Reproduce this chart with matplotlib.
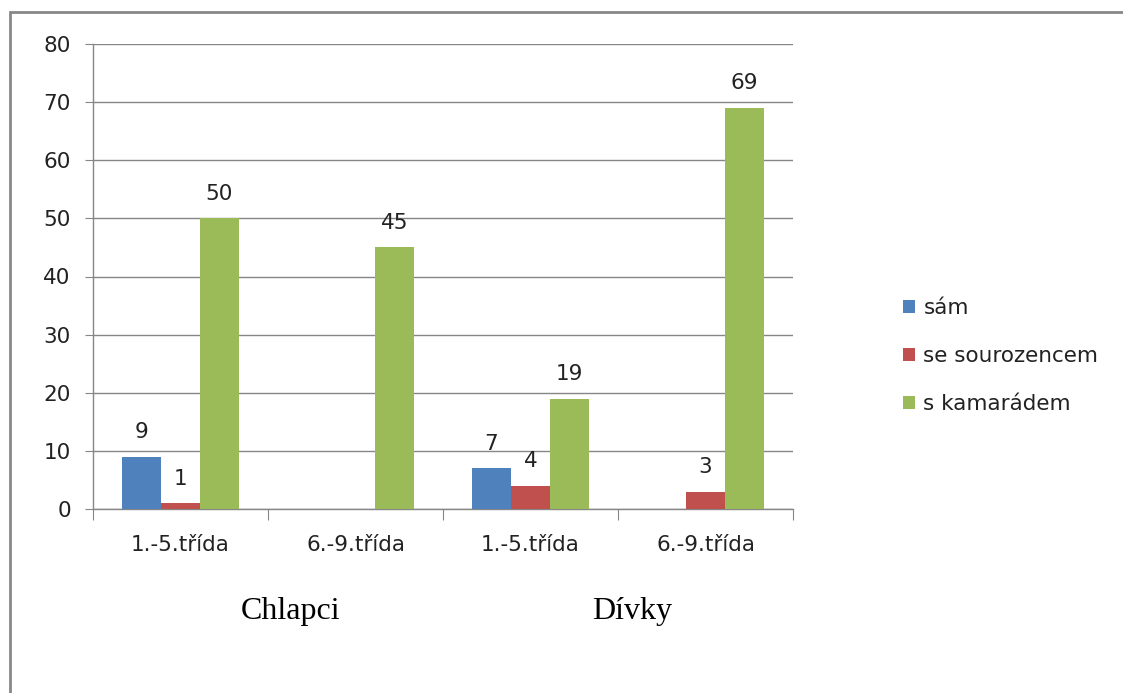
import matplotlib
matplotlib.use("Agg")
import matplotlib.pyplot as plt
import numpy as np
from matplotlib.patches import Rectangle

categories = ["1.-5.třída", "6.-9.třída", "1.-5.třída", "6.-9.třída"]
groups = ["Chlapci", "Dívky"]
series_names = ["sám", "se sourozencem", "s kamarádem"]
sam = [9, 0, 7, 0]
sourozenec = [1, 0, 4, 3]
kamarad = [50, 45, 19, 69]
colors = ["#4F81BD", "#C0504D", "#9BBB59"]
yticks = [0, 10, 20, 30, 40, 50, 60, 70, 80]

plt.rcParams['font.family'] = ['DejaVu Sans']

W, H = 1123, 693
fig = plt.figure(figsize=(W / 100, H / 100), dpi=100)
ax = fig.add_axes([93 / W, 1 - 509 / H, 700 / W, 465 / H])

n = len(categories)
x = np.arange(n)
bw = 1 / 4.5
data = [sam, sourozenec, kamarad]
bars = []
for i, (vals, c, name) in enumerate(zip(data, colors, series_names)):
    b = ax.bar(x + (i - 1) * bw, vals, width=bw, color=c, label=name, zorder=3)
    bars.append(b)
    for xi, v in zip(x, vals):
        if v > 0:
            ax.annotate(str(v), (xi + (i - 1) * bw, v), xytext=(0, 10.5),
                        textcoords="offset points", ha="center", va="bottom",
                        fontsize=15.5, color="#222222")

ax.set_xlim(-0.5, n - 0.5)
ax.set_ylim(0, 80)
ax.set_yticks(yticks)
ax.tick_params(axis='y', length=6, color="#868686", labelsize=15.5, pad=10,
               labelcolor="#222222")
ax.yaxis.grid(True, color="#868686", linewidth=1, zorder=0)
ax.set_axisbelow(True)

ax.set_xticks(np.arange(n + 1) - 0.5)
ax.set_xticklabels([])
ax.tick_params(axis='x', which='major', length=8, color="#868686")
ax.set_xticks(x, minor=True)
ax.set_xticklabels(categories, minor=True)
ax.tick_params(axis='x', which='minor', length=0, labelsize=15.5, pad=19,
               labelcolor="#222222")

for s in ["top", "right"]:
    ax.spines[s].set_visible(False)
for s in ["left", "bottom"]:
    ax.spines[s].set_color("#868686")
    ax.spines[s].set_linewidth(1)

# group labels
fig.text(291 / W, 1 - 612 / H, groups[0], ha="center", va="center",
         fontsize=23, family="Liberation Serif")
fig.text(632 / W, 1 - 612 / H, groups[1], ha="center", va="center",
         fontsize=23, family="Liberation Serif")

leg = fig.legend(handles=bars, labels=series_names, loc="center left",
                 bbox_to_anchor=(903 / W, 1 - 356 / H), frameon=False,
                 fontsize=15.5, handlelength=0.55, handleheight=0.55,
                 handletextpad=0.4, labelspacing=1.3, borderpad=0,
                 borderaxespad=0)
for t in leg.get_texts():
    t.set_color("#222222")

# outer chart border
fig.patches.append(Rectangle((10 / W, -0.1), 1.2, 1 - 12 / H + 0.1,
                             transform=fig.transFigure, fill=False,
                             edgecolor="#888888", linewidth=2))

fig.savefig("out.png", dpi=100, facecolor="white")
